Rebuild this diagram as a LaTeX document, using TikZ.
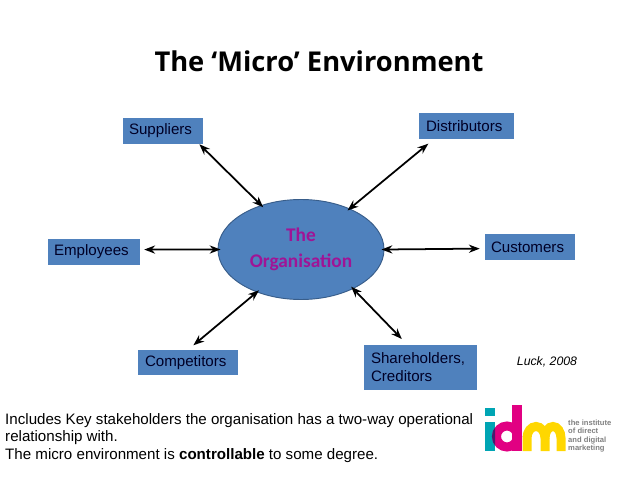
\documentclass[tikz,border=0pt]{standalone}
\usepackage{fontspec}
\setmainfont{Liberation Sans}
\newfontfamily\titlefont{Open Sans}
\newfontfamily\orgfont{Carlito}
\usetikzlibrary{arrows.meta, positioning, shapes.geometric}
\definecolor{boxblue}{RGB}{79, 129, 189}
\definecolor{edgeblue}{RGB}{56, 93, 138}
\definecolor{orgpurple}{RGB}{160, 20, 150}
\definecolor{logoteal}{RGB}{0, 165, 180}
\definecolor{logopink}{RGB}{225, 0, 130}
\definecolor{logoyellow}{RGB}{255, 215, 0}
\definecolor{logodark}{RGB}{70, 30, 110}

\begin{document}
\begin{tikzpicture}[
    x=0.03cm, y=-0.03cm,
    base/.style={fill=boxblue, inner sep=0pt, align=left, text=black!85!blue, font=\fontsize{12.9pt}{15.3pt}\selectfont},
    arrow/.style={{Stealth[scale=0.95]}-{Stealth[scale=0.95]}, line width=1.5pt, black, shorten >=-3*0.03cm}
]
    \useasboundingbox (0,0) rectangle (638,479);

    % --- HEADER ---
    \node[font=\titlefont\fontsize{23.3pt}{27pt}\selectfont\bfseries] (title) at (319,61) {The ‘Micro’ Environment};

    % --- CENTRE ---
    \node[ellipse, draw=edgeblue, fill=boxblue, thick, minimum width=166*0.03cm, minimum height=100*0.03cm, inner sep=0pt, align=center, text=orgpurple, font=\orgfont\fontsize{16.5pt}{22pt}\selectfont\bfseries] (organisation) at (301,249.5) {The\\Organisation};

    % --- STAKEHOLDER BOXES ---
    \node[base, minimum width=80*0.03cm, minimum height=26*0.03cm, text width=68*0.03cm] (suppliers) at (163,131) {Suppliers};
    \node[base, minimum width=95*0.03cm, minimum height=26*0.03cm, text width=81*0.03cm] (distributors) at (466.5,126) {Distributors};
    \node[base, minimum width=92*0.03cm, minimum height=26*0.03cm, text width=80*0.03cm] (employees) at (94,252) {Employees};
    \node[base, minimum width=90*0.03cm, minimum height=26*0.03cm, text width=78*0.03cm] (customers) at (530,247) {Customers};
    \node[base, minimum width=100*0.03cm, minimum height=25*0.03cm, text width=86*0.03cm] (competitors) at (188,362.5) {Competitors};
    \node[base, minimum width=113*0.03cm, minimum height=45*0.03cm, text width=99*0.03cm] (shareholders) at (420.5,367.5) {Shareholders,\\Creditors};

    % --- CONNECTORS ---
    \draw[arrow] (suppliers.-20) -- (organisation.132);
    \draw[arrow, shorten <=7*0.03cm] (distributors.202.4) -- (organisation.40.5);
    \draw[arrow, shorten <=4*0.03cm] (employees.3.7) -- (organisation.west);
    \draw[arrow, shorten <=5*0.03cm] (customers.182.5) -- (organisation.east);
    \draw[arrow, shorten <=7*0.03cm] (competitors.north) -- (organisation.224);
    \draw[arrow, shorten <=8*0.03cm] (shareholders.120) -- (organisation.323);

    % --- NOTES ---
    \node[font=\fontsize{10.5pt}{12pt}\selectfont\itshape] (source) at (547,362) {Luck, 2008};
    \node[anchor=north west, inner sep=0pt, align=left, font=\fontsize{12.9pt}{15pt}\selectfont] (notes) at (5,413) {Includes Key stakeholders the organisation has a two-way operational\\relationship with.\\The micro environment is \textbf{controllable} to some degree.};

    % --- LOGO ---
    \fill[logoteal] (485,408) rectangle (495,416);
    \fill[logoteal] (485,422) rectangle (495,451);
    \draw[logoyellow, line width=9*0.03cm] (527,451) -- (527,438) arc[start angle=180, end angle=0, x radius=9, y radius=-11.5] (545,438) -- (545,451);
    \draw[logoyellow, line width=9*0.03cm] (545,438) arc[start angle=180, end angle=0, x radius=8, y radius=-11.5] -- (561,451);
    \draw[logopink, line width=9*0.03cm] (507,436.5) circle[radius=10.5];
    \begin{scope}
        \clip (485,422) rectangle (495,451);
        \draw[logodark, line width=9*0.03cm] (507,436.5) circle[radius=10.5];
    \end{scope}
    \fill[logopink] (512,405) rectangle (522,451);
    \node[anchor=west, inner sep=0pt, align=left, text=black!50, font=\fontsize{6.5pt}{7.3pt}\selectfont\bfseries] (logotext) at (568,436) {the institute\\of direct\\and digital\\marketing};
\end{tikzpicture}
\end{document}
